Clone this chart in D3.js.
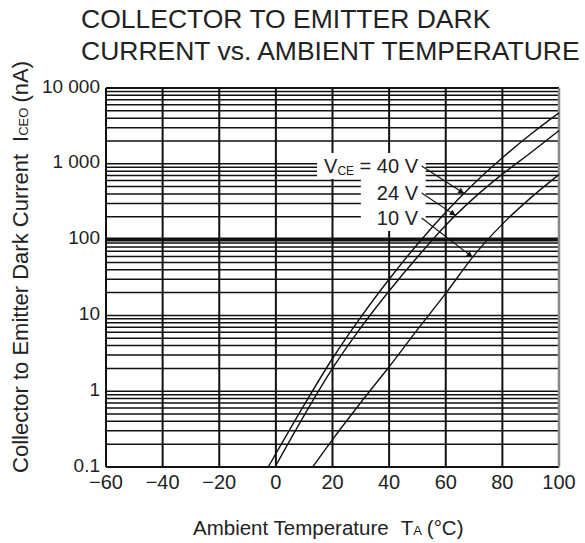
<!DOCTYPE html>
<html>
<head>
<meta charset="utf-8">
<script src="https://cdn.jsdelivr.net/npm/d3@7"></script>
<style>
    body { margin: 0; background: #fff; }
    text { font-family: "Liberation Sans", Arial, sans-serif; fill: #222; }
</style>
</head>
<body>
<div id="chart"></div>
<script>
// ambient temperature (°C) and dark current ICEO (nA)
var temps40 = [-2.7, 0, 10, 20, 30, 40, 50, 60, 70, 80, 90, 100]
var iceo40 = [0.1, 0.15, 0.66, 2.7, 9.5, 30, 87, 230, 550, 1200, 2450, 4700]

var temps24 = [-0.3, 10, 20, 30, 40, 50, 60, 70, 80, 90, 100]
var iceo24 = [0.1, 0.48, 2.0, 6.9, 21, 59, 155, 355, 730, 1400, 2750]

var temps10 = [13, 20, 30, 40, 50, 60, 70, 80, 90, 100]
var iceo10 = [0.1, 0.23, 0.71, 2.1, 6.5, 19.5, 62, 160, 355, 720]

var seriesNames = ["40 V", "24 V", "10 V"]

// where the labels sit and where their arrows hit the curves
var labelTemp = 50.2
var labelValues = [757, 333, 156]
var arrowTemps = [66.5, 63.5, 69.5]

var xTicks = [-60, -40, -20, 0, 20, 40, 60, 80, 100]
var xTickLabels = ["\u221260", "\u221240", "\u221220", "0", "20", "40", "60", "80", "100"]
var yTicks = [0.1, 1, 10, 100, 1000, 10000]
var yTickLabels = ["0.1", "1", "10", "100", "1 000", "10 000"]

var series = [
    { name: seriesNames[0], t: temps40, v: iceo40 },
    { name: seriesNames[1], t: temps24, v: iceo24 },
    { name: seriesNames[2], t: temps10, v: iceo10 }
]

var dimensions = {
    width: 585,
    height: 543,
    margin: { top: 88, right: 26, bottom: 76, left: 106 }
}
var w = dimensions.width - dimensions.margin.left - dimensions.margin.right
var h = dimensions.height - dimensions.margin.top - dimensions.margin.bottom

var svg = d3.select("#chart")
    .append("svg")
    .attr("width", dimensions.width)
    .attr("height", dimensions.height)

svg.append("defs").append("marker")
    .attr("id", "arrow")
    .attr("viewBox", "0 0 10 10")
    .attr("refX", 10)
    .attr("refY", 5)
    .attr("markerWidth", 9)
    .attr("markerHeight", 6)
    .attr("markerUnits", "userSpaceOnUse")
    .attr("orient", "auto")
    .append("path")
    .attr("d", "M0,0 L10,5 L0,10 z")
    .attr("fill", "#111")

// title
var title = svg.append("g").style("font-size", "26.5px")
title.append("text").attr("x", 81).attr("y", 28).text("COLLECTOR TO EMITTER DARK")
title.append("text").attr("x", 81).attr("y", 60).text("CURRENT vs. AMBIENT TEMPERATURE")

var g = svg.append("g")
    .attr("transform", "translate(" + dimensions.margin.left + "," + dimensions.margin.top + ")")

var x = d3.scaleLinear().domain([-60, 100]).range([0, w])
var y = d3.scaleLog().domain([0.1, 10000]).range([h, 0])

// horizontal grid, every 1..9 of each decade
g.append("g")
    .selectAll("line")
    .data(y.ticks())
    .enter()
    .append("line")
    .attr("x1", 0)
    .attr("x2", w)
    .attr("y1", function (d) { return y(d) })
    .attr("y2", function (d) { return y(d) })
    .attr("stroke", "#111")
    .attr("stroke-width", function (d) { return Math.abs(d - 100) < 1e-6 ? 4 : 1.5 })

// vertical grid
g.append("g")
    .selectAll("line")
    .data(xTicks)
    .enter()
    .append("line")
    .attr("x1", function (d) { return x(d) })
    .attr("x2", function (d) { return x(d) })
    .attr("y1", 0)
    .attr("y2", h)
    .attr("stroke", "#111")
    .attr("stroke-width", 2)

// frame
g.append("line").attr("x1", 0).attr("x2", w).attr("y1", 0).attr("y2", 0)
    .attr("stroke", "#111").attr("stroke-width", 2)
g.append("line").attr("x1", 0).attr("x2", w).attr("y1", h).attr("y2", h)
    .attr("stroke", "#111").attr("stroke-width", 2)
g.append("line").attr("x1", 0).attr("x2", 0).attr("y1", 0).attr("y2", h)
    .attr("stroke", "#111").attr("stroke-width", 2)
g.append("line").attr("x1", w).attr("x2", w).attr("y1", 0).attr("y2", h)
    .attr("stroke", "#888").attr("stroke-width", 2.5)

// tick labels
g.append("g")
    .selectAll("text")
    .data(xTicks)
    .enter()
    .append("text")
    .attr("x", function (d) { return x(d) })
    .attr("y", h + 22)
    .attr("text-anchor", "middle")
    .style("font-size", "20px")
    .text(function (d, i) { return xTickLabels[i] })

g.append("g")
    .selectAll("text")
    .data(yTicks)
    .enter()
    .append("text")
    .attr("x", -6)
    .attr("y", function (d) { return y(d) })
    .attr("dy", "0.24em")
    .attr("text-anchor", "end")
    .style("font-size", "19px")
    .text(function (d, i) { return yTickLabels[i] })

// axis titles
var xt = svg.append("text")
    .attr("x", 193)
    .attr("y", 535)
    .style("font-size", "20.5px")
xt.append("tspan").text("Ambient Temperature")
xt.append("tspan").attr("dx", 12).text("T")
xt.append("tspan").style("font-size", "13px").text("A")
xt.append("tspan").attr("dx", 5).text("(\u00b0C)")

var yt = svg.append("text")
    .attr("transform", "translate(28,267) rotate(-90)")
    .attr("text-anchor", "middle")
    .style("font-size", "22px")
yt.append("tspan").text("Collector to Emitter Dark Current")
yt.append("tspan").attr("dx", 12).text("I")
yt.append("tspan").style("font-size", "13px").text("CEO")
yt.append("tspan").attr("dx", 5).text("(nA)")

// labels first so their white boxes can be measured
var labelLayer = g.append("g").attr("class", "labels")
var labelNodes = series.map(function (s, i) {
    var t = labelLayer.append("text")
        .attr("x", x(labelTemp))
        .attr("y", y(labelValues[i]))
        .attr("text-anchor", "end")
        .style("font-size", "20px")
    if (i === 0) {
        t.append("tspan").text("V")
        t.append("tspan").style("font-size", "12px").attr("dy", 2).text("CE")
        t.append("tspan").attr("dy", -2).text(" = " + s.name)
    } else {
        t.text(s.name)
    }
    return t.node()
})

var b0 = labelNodes[0].getBBox()
var b1 = labelNodes[1].getBBox()
var b2 = labelNodes[2].getBBox()
g.insert("rect", ".labels")
    .attr("x", b0.x - 7).attr("y", b0.y - 2)
    .attr("width", b0.width + 14).attr("height", b0.height + 3)
    .attr("fill", "#fff")
g.insert("rect", ".labels")
    .attr("x", b1.x - 16).attr("y", b0.y + b0.height)
    .attr("width", b1.width + 23).attr("height", b2.y + b2.height - (b0.y + b0.height) + 2)
    .attr("fill", "#fff")

// curves
var line = d3.line()
    .x(function (d) { return x(d[0]) })
    .y(function (d) { return y(d[1]) })
    .curve(d3.curveMonotoneX)

g.append("g")
    .selectAll("path")
    .data(series)
    .enter()
    .append("path")
    .attr("d", function (s) { return line(d3.zip(s.t, s.v)) })
    .attr("fill", "none")
    .attr("stroke", "#111")
    .attr("stroke-width", 1.4)

// value on a curve at temperature t (log interpolation)
function valueAt(s, t) {
    for (var i = 1; i < s.t.length; i++) {
        if (t <= s.t[i]) {
            var f = (t - s.t[i - 1]) / (s.t[i] - s.t[i - 1])
            return Math.pow(10, Math.log10(s.v[i - 1]) + f * (Math.log10(s.v[i]) - Math.log10(s.v[i - 1])))
        }
    }
    return s.v[s.v.length - 1]
}

// leader arrows
series.forEach(function (s, i) {
    var bb = labelNodes[i].getBBox()
    g.append("line")
        .attr("x1", bb.x + bb.width + 3)
        .attr("y1", y(labelValues[i]) - 7)
        .attr("x2", x(arrowTemps[i]))
        .attr("y2", y(valueAt(s, arrowTemps[i])))
        .attr("stroke", "#111")
        .attr("stroke-width", 1.1)
        .attr("marker-end", "url(#arrow)")
})
</script>
</body>
</html>
